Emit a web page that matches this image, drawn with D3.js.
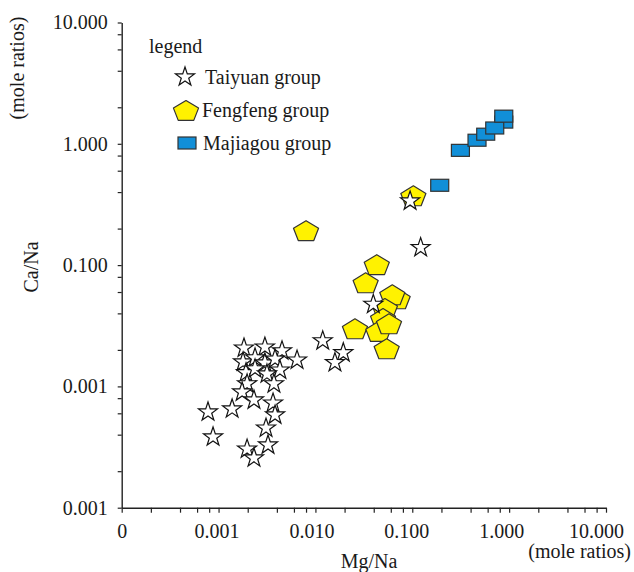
<!DOCTYPE html>
<html>
<head>
<meta charset="utf-8">
<script src="https://cdn.jsdelivr.net/npm/d3@7"></script>
<style>
  html, body { margin: 0; padding: 0; background: #fff; }
  svg { display: block; }
</style>
</head>
<body>
<svg id="chart" width="634" height="572"></svg>
<script>
// Mg/Na vs Ca/Na mole ratios by formation group
const taiyuanMg = [0.00183, 0.00301, 0.00452, 0.00646, 0.00179, 0.00238, 0.00301, 0.00383, 0.00430, 0.00192,
                   0.00238, 0.00316, 0.00197, 0.00373, 0.00175, 0.00232, 0.00365, 0.00383, 0.000778, 0.00138,
                   0.000877, 0.00309, 0.00324, 0.00197, 0.00232, 0.0119, 0.0194, 0.0159, 0.0396, 0.122, 0.0949];
const taiyuanCa = [0.0211, 0.0215, 0.0200, 0.0168, 0.0162, 0.0175, 0.0159, 0.0171, 0.0139, 0.0132,
                   0.0142, 0.0129, 0.0107, 0.0107, 0.00916, 0.00787, 0.00743, 0.00592, 0.00627, 0.00664,
                   0.00390, 0.00462, 0.00335, 0.00310, 0.00262, 0.0242, 0.0193, 0.0160, 0.0484, 0.142, 0.344];

const fengfengMg = [0.0080, 0.1026, 0.0430, 0.0330, 0.0706, 0.0622, 0.0522, 0.0499, 0.0256, 0.0446, 0.0575, 0.0544];
const fengfengCa = [0.194, 0.376, 0.1017, 0.0721, 0.0532, 0.0574, 0.0443, 0.0366, 0.0301, 0.0286, 0.0331, 0.0206];

const majiagouMg = [0.192, 0.314, 0.466, 0.573, 0.88, 0.71, 0.88];
const majiagouCa = [0.455, 0.883, 1.07, 1.20, 1.51, 1.35, 1.69];

const xTickValues = [0.0001, 0.001, 0.01, 0.1, 1, 10];
const xTickLabels = ["0", "0.001", "0.010", "0.100", "1.000", "10.000"];
const yTickValues = [0.001, 0.01, 0.1, 1, 10];
const yTickLabels = ["0.001", "0.001", "0.100", "1.000", "10.000"];
const minorSteps = [2, 4, 6, 8];

const legendLabels = ["Taiyuan group", "Fengfeng group", "Majiagou group"];

const SERIF = "'Liberation Serif', 'Times New Roman', serif";
const fontSize = 20;
const ink = "#1a1a1a";

const svg = d3.select("#chart");
const plot = { left: 121.7, right: 606, top: 22.5, bottom: 507.7 };

const x = d3.scaleLog().domain([1e-4, 10]).range([plot.left, plot.right]);
const y = d3.scaleLog().domain([1e-3, 10]).range([plot.bottom, plot.top]);

function withMinor(majors) {
  const out = [];
  majors.forEach((m, i) => {
    out.push(m);
    if (i < majors.length - 1) minorSteps.forEach(s => out.push(m * s));
  });
  return out;
}
function majorIndex(values, d) {
  return values.findIndex(v => Math.abs(v - d) / v < 1e-6);
}

function addText(parent, txt) {
  return parent.append("text")
    .attr("font-family", SERIF)
    .attr("font-size", fontSize)
    .attr("fill", ink)
    .text(txt);
}

// x axis
const xAxis = d3.axisBottom(x)
  .tickValues(withMinor(xTickValues))
  .tickSize(5)
  .tickSizeOuter(0)
  .tickFormat(d => {
    const i = majorIndex(xTickValues, d);
    return i >= 0 ? xTickLabels[i] : "";
  });

const gx = svg.append("g").attr("transform", `translate(0,${plot.bottom})`).call(xAxis);
gx.attr("font-family", SERIF).attr("font-size", fontSize);
gx.select(".domain").attr("stroke", "#222").attr("stroke-width", 1.4);
gx.selectAll(".tick line").attr("stroke", "#222").attr("stroke-width", 1.2);
gx.selectAll(".tick text")
  .attr("font-family", SERIF)
  .attr("font-size", fontSize)
  .attr("fill", ink)
  .attr("y", 16)
  .attr("dy", "0.71em")
  .attr("dx", d => {
    const i = majorIndex(xTickValues, d);
    return i >= 0 ? -2 * i : 0;
  });

// y axis
const yAxis = d3.axisLeft(y)
  .tickValues(withMinor(yTickValues))
  .tickSize(4)
  .tickSizeOuter(0)
  .tickPadding(10)
  .tickFormat(d => {
    const i = majorIndex(yTickValues, d);
    return i >= 0 ? yTickLabels[i] : "";
  });

const gy = svg.append("g").attr("transform", `translate(${plot.left},0)`).call(yAxis);
gy.attr("font-family", SERIF).attr("font-size", fontSize);
gy.select(".domain").attr("stroke", "#222").attr("stroke-width", 1.4);
gy.selectAll(".tick line").attr("stroke", "#222").attr("stroke-width", 1.2);
gy.selectAll(".tick text")
  .attr("font-family", SERIF)
  .attr("font-size", fontSize)
  .attr("fill", ink);

// axis titles
addText(svg, "Mg/Na").attr("x", 369).attr("y", 568).attr("text-anchor", "middle");
addText(svg, "(mole ratios)").attr("x", 631).attr("y", 558).attr("text-anchor", "end");
addText(svg, "Ca/Na").attr("transform", "translate(38,267) rotate(-90)").attr("text-anchor", "middle");
addText(svg, "(mole ratios)").attr("transform", "translate(24,68) rotate(-90)").attr("text-anchor", "middle");

// marker shapes
function starPath(R, r) {
  const pts = [];
  for (let k = 0; k < 10; k++) {
    const a = -Math.PI / 2 + k * Math.PI / 5;
    const rad = k % 2 === 0 ? R : r;
    pts.push([rad * Math.cos(a), rad * Math.sin(a)]);
  }
  return "M" + pts.map(p => p[0].toFixed(2) + "," + p[1].toFixed(2)).join("L") + "Z";
}
function pentagonPath(R, sx) {
  const pts = [];
  for (let k = 0; k < 5; k++) {
    const a = -Math.PI / 2 + k * 2 * Math.PI / 5;
    pts.push([sx * R * Math.cos(a), R * Math.sin(a)]);
  }
  return "M" + pts.map(p => p[0].toFixed(2) + "," + p[1].toFixed(2)).join("L") + "Z";
}
const STAR = starPath(10, 3.9);
const PENT = pentagonPath(11, 1.2);
const SQ_W = 18, SQ_H = 12;

const yellow = "#fff200";
const blue = "#118fd8";

// Fengfeng group
svg.append("g").selectAll("path")
  .data(d3.zip(fengfengMg, fengfengCa))
  .join("path")
  .attr("d", PENT)
  .attr("transform", d => `translate(${x(d[0])},${y(d[1]) + 1.5})`)
  .attr("fill", yellow)
  .attr("stroke", "#333")
  .attr("stroke-width", 1.2)
  .attr("stroke-linejoin", "round");

// Taiyuan group
svg.append("g").selectAll("path")
  .data(d3.zip(taiyuanMg, taiyuanCa))
  .join("path")
  .attr("d", STAR)
  .attr("transform", d => `translate(${x(d[0])},${y(d[1]) + 1})`)
  .attr("fill", "#fff")
  .attr("stroke", "#111")
  .attr("stroke-width", 1.2);

// Majiagou group
svg.append("g").selectAll("rect")
  .data(d3.zip(majiagouMg, majiagouCa))
  .join("rect")
  .attr("x", d => x(d[0]) - SQ_W / 2)
  .attr("y", d => y(d[1]) - SQ_H / 2)
  .attr("width", SQ_W)
  .attr("height", SQ_H)
  .attr("fill", blue)
  .attr("stroke", "#333")
  .attr("stroke-width", 1.2);

// legend
const lg = svg.append("g");
addText(lg, "legend").attr("x", 149).attr("y", 53);
const rows = [
  { cy: 77, tx: 205, ty: 84 },
  { cy: 110, tx: 202, ty: 117 },
  { cy: 143, tx: 203, ty: 150 }
];
lg.append("path").attr("d", STAR).attr("transform", `translate(185,${rows[0].cy})`)
  .attr("fill", "#fff").attr("stroke", "#111").attr("stroke-width", 1.2);
lg.append("path").attr("d", PENT).attr("transform", `translate(186,${rows[1].cy + 1.5})`)
  .attr("fill", yellow).attr("stroke", "#333").attr("stroke-width", 1.2).attr("stroke-linejoin", "round");
lg.append("rect").attr("x", 187 - SQ_W / 2).attr("y", rows[2].cy - SQ_H / 2)
  .attr("width", SQ_W).attr("height", SQ_H)
  .attr("fill", blue).attr("stroke", "#333").attr("stroke-width", 1.2);
rows.forEach((r, i) => {
  addText(lg, legendLabels[i]).attr("x", r.tx).attr("y", r.ty);
});
</script>
</body>
</html>
